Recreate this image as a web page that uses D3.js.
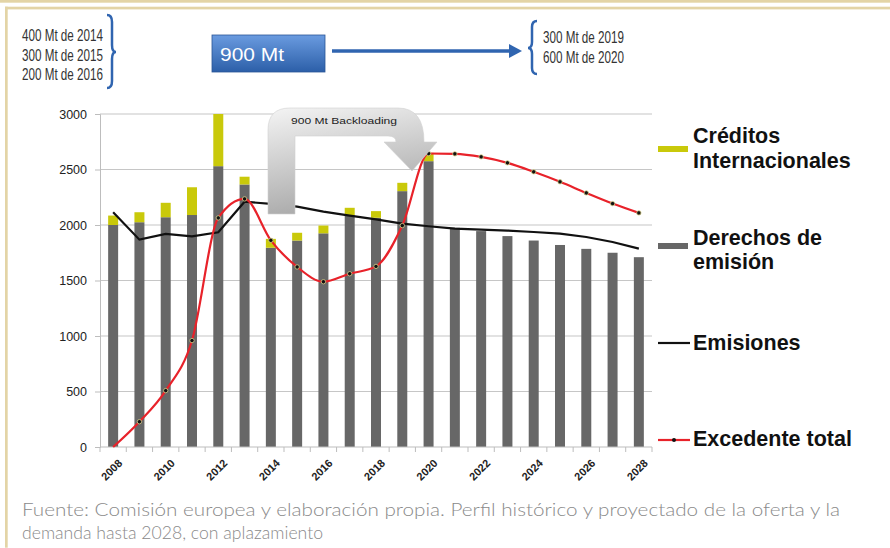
<!DOCTYPE html>
<html>
<head>
<meta charset="utf-8">
<script src="https://cdn.jsdelivr.net/npm/d3@7"></script>
<style>
  body { margin: 0; background: #fff; }
  svg { display: block; }
</style>
</head>
<body>
<svg id="chart" width="890" height="548"></svg>
<script>
const years = [2008, 2009, 2010, 2011, 2012, 2013, 2014, 2015, 2016, 2017, 2018,
  2019, 2020, 2021, 2022, 2023, 2024, 2025, 2026, 2027, 2028];
const derechos = [2000, 2025, 2070, 2090, 2530, 2365, 1795, 1860, 1925, 2090, 2065,
  2305, 2575, 1975, 1945, 1900, 1860, 1820, 1785, 1750, 1710];
const creditos = [85, 90, 130, 250, 470, 70, 80, 70, 70, 65, 60,
  75, 75, 0, 0, 0, 0, 0, 0, 0, 0];
const emisiones = [2115, 1868, 1920, 1898, 1934, 2210, 2190, 2165, 2120, 2085, 2050,
  2013, 1989, 1968, 1958, 1950, 1937, 1922, 1892, 1847, 1787];
const excedente = [0, 228, 508, 959, 2064, 2235, 1862, 1622, 1489, 1561, 1627,
  1995, 2644, 2641, 2614, 2560, 2479, 2389, 2289, 2193, 2109];
const yTicks = [0, 500, 1000, 1500, 2000, 2500, 3000];
const xLabels = [2008, 2010, 2012, 2014, 2016, 2018, 2020, 2022, 2024, 2026, 2028];
const leftNotes = ["400 Mt de 2014", "300 Mt de 2015", "200 Mt de 2016"];
const rightNotes = ["300 Mt de 2019", "600 Mt de 2020"];
const caption = ["Fuente: Comisión europea y elaboración propia. Perfil histórico y proyectado de la oferta y la",
  "demanda hasta 2028, con aplazamiento"];

const svg = d3.select("#chart");
const tan = "#e3d4a6";
const blue = "#3065b0";

// page frame
svg.append("rect").attr("x", 0).attr("y", 0).attr("width", 890).attr("height", 2.7).attr("fill", tan);
svg.append("rect").attr("x", 5).attr("y", 6.7).attr("width", 885).attr("height", 2.7).attr("fill", tan);
svg.append("rect").attr("x", 5).attr("y", 6.7).attr("width", 2.7).attr("height", 541).attr("fill", tan);

const defs = svg.append("defs");
const boxGrad = defs.append("linearGradient").attr("id", "boxGrad")
  .attr("x1", 0).attr("y1", 0).attr("x2", 0).attr("y2", 1);
boxGrad.append("stop").attr("offset", "0%").attr("stop-color", "#6a9be0");
boxGrad.append("stop").attr("offset", "100%").attr("stop-color", "#2c5fa8");
const arrGrad = defs.append("linearGradient").attr("id", "arrGrad")
  .attr("x1", 0).attr("y1", 0).attr("x2", 0.3).attr("y2", 1);
arrGrad.append("stop").attr("offset", "0%").attr("stop-color", "#f4f4f4");
arrGrad.append("stop").attr("offset", "100%").attr("stop-color", "#a9a9a9");

// header
const headFont = "'Liberation Sans', Arial, sans-serif";
svg.append("g").selectAll("text").data(leftNotes).join("text")
  .attr("x", 22).attr("y", (d, i) => 41 + i * 19.5)
  .attr("textLength", 81).attr("lengthAdjust", "spacingAndGlyphs")
  .style("font-family", headFont).style("font-size", "16px").attr("fill", "#333")
  .text(d => d);
svg.append("g").selectAll("text").data(rightNotes).join("text")
  .attr("x", 543).attr("y", (d, i) => 43 + i * 20)
  .attr("textLength", 81).attr("lengthAdjust", "spacingAndGlyphs")
  .style("font-family", headFont).style("font-size", "16px").attr("fill", "#333")
  .text(d => d);

svg.append("path")
  .attr("d", "M107,15 Q112,15 112,22 L112,45 Q112,52 116,52 Q112,52 112,59 L112,81 Q112,88 107,88")
  .attr("fill", "none").attr("stroke", blue).attr("stroke-width", 2.5);
svg.append("path")
  .attr("d", "M537,21 Q532,21 532,27 L532,42 Q532,48 528,48 Q532,48 532,54 L532,68 Q532,74 537,74")
  .attr("fill", "none").attr("stroke", blue).attr("stroke-width", 2.5);

svg.append("rect").attr("x", 212).attr("y", 35).attr("width", 113).attr("height", 37)
  .attr("fill", "url(#boxGrad)").attr("stroke", "#2a5596").attr("stroke-width", 0.8);
svg.append("text").attr("x", 220).attr("y", 61)
  .style("font-family", headFont).style("font-size", "18px").attr("fill", "#fff")
  .attr("textLength", 64).attr("lengthAdjust", "spacingAndGlyphs")
  .text("900 Mt");

svg.append("line").attr("x1", 332).attr("y1", 51).attr("x2", 512).attr("y2", 51)
  .attr("stroke", blue).attr("stroke-width", 3.5);
svg.append("path").attr("d", "M509,44 L522,51 L509,58 Z").attr("fill", blue);

// chart scales
const x = d3.scaleBand().domain(years).range([100, 652]).paddingInner(0.62).paddingOuter(0.31);
const y = d3.scaleLinear().domain([0, 3000]).range([447, 114]);
const cx = d => x(d) + x.bandwidth() / 2;

// gridlines
svg.append("g").selectAll("line").data(yTicks.slice(1)).join("line")
  .attr("x1", 100).attr("x2", 652)
  .attr("y1", d => y(d)).attr("y2", d => y(d))
  .attr("stroke", "#c6c6c6").attr("stroke-width", 1.2);

// y axis
const yAxis = svg.append("g").attr("transform", "translate(100,0)")
  .call(d3.axisLeft(y).tickValues(yTicks).tickFormat(d3.format("d")).tickSize(5).tickPadding(8));
yAxis.select(".domain").attr("stroke", "#bdbdbd");
yAxis.selectAll(".tick line").attr("stroke", "#bdbdbd");
yAxis.selectAll("text").style("font-family", headFont).style("font-size", "12.5px").attr("fill", "#222");

// bars
svg.append("g").selectAll("rect").data(years).join("rect")
  .attr("x", d => x(d)).attr("width", x.bandwidth())
  .attr("y", (d, i) => y(derechos[i]))
  .attr("height", (d, i) => y(0) - y(derechos[i]))
  .attr("fill", "#676767");
svg.append("g").selectAll("rect").data(years).join("rect")
  .attr("x", d => x(d)).attr("width", x.bandwidth())
  .attr("y", (d, i) => y(derechos[i] + creditos[i]))
  .attr("height", (d, i) => y(derechos[i]) - y(derechos[i] + creditos[i]))
  .attr("fill", "#c9c90a");

// x axis
svg.append("line").attr("x1", 100).attr("x2", 652).attr("y1", 447).attr("y2", 447)
  .attr("stroke", "#bdbdbd").attr("stroke-width", 1.2);
const bounds = years.map(d => cx(d) - x.step() / 2).concat([cx(2028) + x.step() / 2]);
svg.append("g").selectAll("line").data(bounds).join("line")
  .attr("x1", d => d).attr("x2", d => d).attr("y1", 447).attr("y2", 452)
  .attr("stroke", "#bdbdbd");
svg.append("g").selectAll("text").data(xLabels).join("text")
  .attr("transform", d => `translate(${cx(d) + 4},${458}) rotate(-45)`)
  .attr("text-anchor", "end").attr("dy", "0.75em")
  .style("font-family", headFont).style("font-size", "11px").style("font-weight", "bold")
  .attr("fill", "#222")
  .text(d => d);

// emisiones line
svg.append("path").datum(emisiones)
  .attr("d", d3.line().x((d, i) => cx(years[i])).y(d => y(d)))
  .attr("fill", "none").attr("stroke", "#111").attr("stroke-width", 2.2);

// excedente line
svg.append("path").datum(excedente)
  .attr("d", d3.line().x((d, i) => cx(years[i])).y(d => y(d)).curve(d3.curveMonotoneX))
  .attr("fill", "none").attr("stroke", "#e8222a").attr("stroke-width", 2.2);
svg.append("g").selectAll("circle").data(excedente.slice(1)).join("circle")
  .attr("cx", (d, i) => cx(years[i + 1])).attr("cy", d => y(d)).attr("r", 2.2)
  .attr("fill", "#111").attr("stroke", "#d8d08a").attr("stroke-width", 0.8);

// backloading arrow
svg.append("path")
  .attr("d", "M268,214 L268,130 Q268,108 290,108 L398,108 Q424,108 424,142 L437,142 L412,171 L384,142 L396,142 Q396,136 388,136 L295,136 L295,214 Z")
  .attr("fill", "url(#arrGrad)").attr("stroke", "#d0d0d0").attr("stroke-width", 0.6);
svg.append("text").attr("x", 291).attr("y", 124)
  .style("font-family", headFont).style("font-size", "9.5px").attr("fill", "#222")
  .attr("textLength", 106).attr("lengthAdjust", "spacingAndGlyphs")
  .text("900 Mt Backloading");

// legend
const lg = svg.append("g").style("font-family", headFont).style("font-size", "21.5px")
  .style("font-weight", "bold").attr("fill", "#111");
lg.append("rect").attr("x", 658).attr("y", 146).attr("width", 30).attr("height", 6).attr("fill", "#c9c90a");
lg.append("text").attr("x", 693).attr("y", 143).text("Créditos");
lg.append("text").attr("x", 693).attr("y", 168).text("Internacionales");
lg.append("rect").attr("x", 658).attr("y", 243).attr("width", 30).attr("height", 6).attr("fill", "#676767");
lg.append("text").attr("x", 693).attr("y", 245).text("Derechos de");
lg.append("text").attr("x", 693).attr("y", 269).text("emisión");
lg.append("line").attr("x1", 658).attr("x2", 690).attr("y1", 343).attr("y2", 343)
  .attr("stroke", "#111").attr("stroke-width", 2.2);
lg.append("text").attr("x", 693).attr("y", 350).text("Emisiones");
lg.append("line").attr("x1", 658).attr("x2", 690).attr("y1", 440).attr("y2", 440)
  .attr("stroke", "#e8222a").attr("stroke-width", 2.2);
lg.append("circle").attr("cx", 674).attr("cy", 440).attr("r", 2).attr("fill", "#111");
lg.append("text").attr("x", 693).attr("y", 446).text("Excedente total");

// caption
svg.append("g").selectAll("text").data(caption).join("text")
  .attr("x", 22).attr("y", (d, i) => 516 + i * 23)
  .attr("textLength", (d, i) => i === 0 ? 818 : 301).attr("lengthAdjust", "spacingAndGlyphs")
  .style("font-family", "Lato, 'Open Sans', sans-serif").style("font-weight", 300)
  .style("font-size", "18.5px").attr("fill", "#8a8a8a")
  .text(d => d);
</script>
</body>
</html>
